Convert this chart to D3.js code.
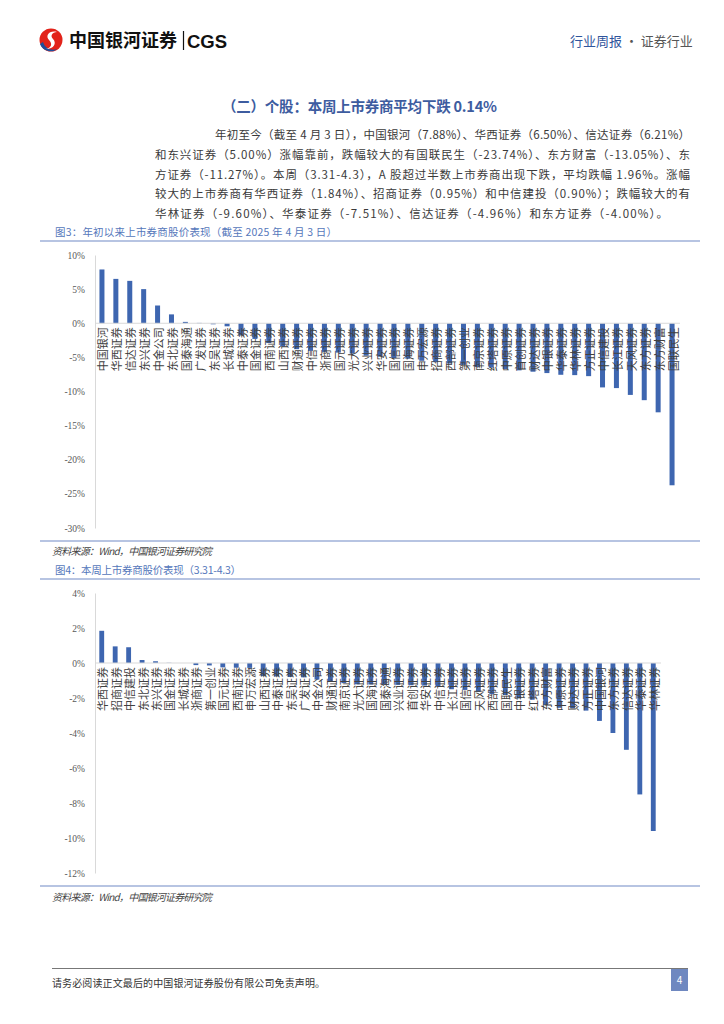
<!DOCTYPE html>
<html><head><meta charset="utf-8">
<script src="https://cdn.jsdelivr.net/npm/d3@7/dist/d3.min.js"></script>
<style>
html,body{margin:0;padding:0;background:#fff;}
svg{display:block;}
text{font-family:"Noto Sans CJK SC","Noto Sans",sans-serif;}
</style></head>
<body>
<svg id="page" width="724" height="1024"></svg>
<script>
// ---------- DATA ----------
const categories1 = ["中国银河","华西证券","信达证券","东兴证券","中金公司","东北证券","国泰海通","广发证券","东吴证券","长城证券","中泰证券","国金证券","西南证券","山西证券","财通证券","中信证券","浙商证券","国元证券","光大证券","兴业证券","华安证券","国信证券","国海证券","申万宏源","招商证券","西部证券","第一创业","南京证券","红塔证券","中原证券","首创证券","财达证券","中银证券","华泰证券","华林证券","方正证券","中信建投","长江证券","天风证券","东方证券","东方财富","国联民生"];
const values1 = [7.88,6.50,6.21,5.00,2.6,1.3,0.2,0.05,-0.15,-0.45,-1.8,-2.3,-2.9,-3.4,-3.8,-4.05,-4.2,-4.3,-4.45,-4.75,-4.9,-5.1,-5.2,-5.5,-5.7,-5.9,-6.1,-6.4,-6.5,-6.7,-6.9,-7.1,-7.3,-7.55,-7.6,-7.75,-9.4,-9.5,-10.5,-11.27,-13.05,-23.74];
const yTicks1 = [10,5,0,-5,-10,-15,-20,-25,-30];

const categories2 = ["华西证券","招商证券","中信建投","东北证券","东兴证券","国金证券","长城证券","浙商证券","第一创业","国元证券","西南证券","申万宏源","山西证券","中泰证券","东吴证券","广发证券","中金公司","财通证券","南京证券","光大证券","国海证券","国泰海通","兴业证券","首创证券","华安证券","中信证券","长江证券","国信证券","天风证券","西部证券","国联民生","中银证券","红塔证券","东方财富","中原证券","财达证券","方正证券","中国银河","东方证券","信达证券","华泰证券","华林证券"];
const values2 = [1.84,0.95,0.90,0.17,0.10,0.01,0.00,-0.12,-0.14,-0.25,-0.27,-0.28,-0.75,-0.77,-0.80,-0.82,-0.95,-1.05,-1.15,-1.22,-1.23,-1.24,-1.25,-1.27,-1.29,-1.35,-1.50,-1.54,-1.64,-1.79,-1.83,-2.02,-2.10,-2.40,-2.56,-2.58,-2.72,-3.31,-4.00,-4.96,-7.51,-9.60];
const yTicks2 = [4,2,0,-2,-4,-6,-8,-10,-12];

const paragraph = [
 "年初至今（截至 4 月 3 日），中国银河（7.88%）、华西证券（6.50%）、信达证券（6.21%）",
 "和东兴证券（5.00%）涨幅靠前，跌幅较大的有国联民生（-23.74%）、东方财富（-13.05%）、东",
 "方证券（-11.27%）。本周（3.31-4.3），A 股超过半数上市券商出现下跌，平均跌幅 1.96%。涨幅",
 "较大的上市券商有华西证券（1.84%）、招商证券（0.95%）和中信建投（0.90%）；跌幅较大的有",
 "华林证券（-9.60%）、华泰证券（-7.51%）、信达证券（-4.96%）和东方证券（-4.00%）。"
];

// ---------- DRAW ----------
const svg = d3.select("#page");
const BAR = "#3e66b0";

// header logo
const logo = svg.append("g").attr("transform","translate(51,40)");
logo.append("circle").attr("r",11.5).attr("fill","#e2231a");
logo.append("path").attr("d","M-11,4 C-8,12 2,13 6,9 C1,11 -6,9 -8,2 Z").attr("fill","#1f4e9c");
logo.append("path").attr("d","M6,-8 C-2,-10 -6,-4 -2,0 C2,4 0,8 -5,9 C3,9 6,3 2,-1 C-1,-4 1,-8 6,-8 Z").attr("fill","#fff");
svg.append("text").attr("x",69).attr("y",47).attr("font-size",18).attr("font-weight","bold").attr("fill","#111").text("中国银河证券");
svg.append("line").attr("x1",183.5).attr("x2",183.5).attr("y1",31).attr("y2",50).attr("stroke","#111").attr("stroke-width",1.2);
svg.append("text").attr("x",187).attr("y",47.5).attr("font-size",18.5).attr("font-weight","bold").attr("fill","#111")
  .style("font-family","'Liberation Sans',Arial,sans-serif").text("CGS");
const hr = svg.append("text").attr("x",570).attr("y",46).attr("font-size",13);
hr.append("tspan").attr("fill","#2f559c").text("行业周报");
hr.append("tspan").attr("fill","#555").text(" · 证券行业");

// heading
svg.append("text").attr("x",222).attr("y",112).attr("font-size",14.5).attr("font-weight","bold").attr("fill","#3d5c9f")
  .attr("textLength",275).attr("lengthAdjust","spacing").text("（二）个股：本周上市券商平均下跌 0.14%");

// paragraph
const pLines = [
  {x:215,w:475},{x:155,w:535},{x:155,w:535},{x:155,w:535},{x:155,w:513}
];
paragraph.forEach((t,i)=>{
  svg.append("text").attr("x",pLines[i].x).attr("y",139+i*19.8).attr("font-size",11.5).attr("fill","#3a3a3a")
    .attr("textLength",pLines[i].w).attr("lengthAdjust","spacing").text(t);
});

// section lines & titles
function hline(y,x1,x2,color,w){svg.append("line").attr("x1",x1).attr("x2",x2).attr("y1",y).attr("y2",y).attr("stroke",color).attr("stroke-width",w);}
svg.append("text").attr("x",55).attr("y",236).attr("font-size",10.5).attr("fill","#5577bb")
  .attr("textLength",282).attr("lengthAdjust","spacing").text("图3：年初以来上市券商股价表现（截至 2025 年 4 月 3 日）");
hline(241,40,700,"#9fb1d8",1.3);
hline(541,40,700,"#9fb1d8",1.3);
svg.append("text").attr("x",52).attr("y",555).attr("font-size",10).attr("fill","#444").attr("font-style","italic")
  .attr("textLength",160).attr("lengthAdjust","spacing").text("资料来源：Wind，中国银河证券研究院");
svg.append("text").attr("x",55).attr("y",574).attr("font-size",10.5).attr("fill","#5577bb")
  .attr("textLength",186).attr("lengthAdjust","spacing").text("图4：本周上市券商股价表现（3.31-4.3）");
hline(579,40,700,"#9fb1d8",1.3);
hline(886,40,700,"#9fb1d8",1.3);
svg.append("text").attr("x",52).attr("y",901).attr("font-size",10).attr("fill","#444").attr("font-style","italic")
  .attr("textLength",160).attr("lengthAdjust","spacing").text("资料来源：Wind，中国银河证券研究院");

// footer
hline(968.5,52,688,"#777",1);
svg.append("text").attr("x",52).attr("y",987).attr("font-size",10).attr("fill","#333")
  .attr("textLength",273).attr("lengthAdjust","spacing").text("请务必阅读正文最后的中国银河证券股份有限公司免责声明。");
svg.append("rect").attr("x",671).attr("y",969).attr("width",17).attr("height",22).attr("fill","#6f88c0");
svg.append("text").attr("x",679.5).attr("y",984).attr("font-size",10).attr("fill","#fff").attr("text-anchor","middle").text("4");

// charts
function drawChart(cats, vals, ticks, yTop, yBot, xL, xR){
  const g = svg.append("g");
  const x = d3.scaleBand().domain(cats).range([xL,xR]).paddingInner(0.64).paddingOuter(0.32);
  const y = d3.scaleLinear().domain([ticks[0], ticks[ticks.length-1]]).range([yTop,yBot]);
  const ax = d3.axisLeft(y).tickValues(ticks).tickSize(0).tickPadding(10).tickFormat(d=>d+"%");
  const axg = g.append("g").attr("transform",`translate(${xL},0)`).call(ax);
  axg.select(".domain").attr("stroke","#d9d9d9");
  axg.selectAll("text").attr("font-size",9.5).attr("fill","#595959")
     .style("font-family","'Liberation Serif','DejaVu Serif',serif");
  g.selectAll("rect.bar").data(vals).enter().append("rect")
    .attr("x",(d,i)=>x(cats[i])).attr("width",x.bandwidth())
    .attr("y",d=>Math.min(y(d),y(0))).attr("height",d=>Math.abs(y(d)-y(0)))
    .attr("fill",BAR);
  g.append("line").attr("x1",xL).attr("x2",xR+1).attr("y1",y(0)).attr("y2",y(0)).attr("stroke","#d9d9d9").attr("stroke-width",1);
  g.selectAll("text.cat").data(cats).enter().append("text")
    .attr("transform",d=>`translate(${x(d)+x.bandwidth()/2+0.5},${y(0)+4}) rotate(-90)`)
    .attr("text-anchor","end").attr("dominant-baseline","central")
    .attr("font-size",11).attr("fill","#404040").text(d=>d);
}
drawChart(categories1, values1, yTicks1, 255, 528, 95, 679);
drawChart(categories2, values2, yTicks2, 593, 873, 95, 660);
</script>
</body></html>
